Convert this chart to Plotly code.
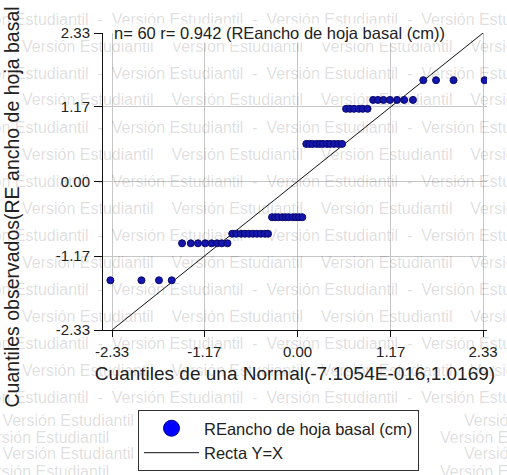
import plotly.graph_objects as go

# --- Datos -----------------------------------------------------------------
serie_nombre = "REancho de hoja basal (cm)"
r_correlacion = 0.942

# Cuantiles teóricos de la Normal(-7.1054E-016, 1.0169), en orden de rango
cuantil_normal = [
    -2.35, -1.96, -1.74, -1.58, -1.45, -1.34, -1.25, -1.16, -1.08, -1.01,
    -0.95, -0.88, -0.82, -0.77, -0.71, -0.66, -0.61, -0.56, -0.51, -0.46,
    -0.41, -0.37, -0.32, -0.28, -0.24, -0.19, -0.15, -0.11, -0.06, -0.02,
    0.02, 0.06, 0.11, 0.15, 0.19, 0.24, 0.28, 0.32, 0.37, 0.41,
    0.46, 0.51, 0.56, 0.61, 0.66, 0.71, 0.77, 0.82, 0.88, 0.95,
    1.01, 1.08, 1.16, 1.25, 1.34, 1.45, 1.58, 1.74, 1.96, 2.35,
]

# Cuantiles observados (residuos estandarizados ordenados)
cuantil_observado = [
    -1.55, -1.55, -1.55, -1.55,
    -0.97, -0.97, -0.97, -0.97, -0.97, -0.97, -0.97, -0.97,
    -0.82, -0.82, -0.82, -0.82, -0.82, -0.82, -0.82, -0.82, -0.82, -0.82,
    -0.56, -0.56, -0.56, -0.56, -0.56, -0.56, -0.56, -0.56, -0.56, -0.56,
    0.59, 0.59, 0.59, 0.59, 0.59, 0.59, 0.59, 0.59, 0.59, 0.59, 0.59,
    1.14, 1.14, 1.14, 1.14, 1.14, 1.14,
    1.28, 1.28, 1.28, 1.28, 1.28, 1.28, 1.28,
    1.59, 1.59, 1.59, 1.59,
]

# Extremos de la recta de referencia Y = X
recta = [-2.33, 2.33]

# Marcas de los ejes
ticks_valores = [-2.33, -1.17, 0.0, 1.17, 2.33]
ticks_texto = ["-2.33", "-1.17", "0.00", "1.17", "2.33"]

titulo_x = "Cuantiles de una Normal(-7.1054E-016,1.0169)"
titulo_y = "Cuantiles observados(RE ancho de hoja basal (cm))"

# --- Geometría de la figura -------------------------------------------------
ANCHO, ALTO = 507, 475
M_IZQ, M_DER, M_SUP, M_INF = 103, 20, 33, 145
ANCHO_AREA = ANCHO - M_IZQ - M_DER
ALTO_AREA = ALTO - M_SUP - M_INF


def px_x(p):
    return (p - M_IZQ) / ANCHO_AREA


def px_y(p):
    return (ALTO - M_INF - p) / ALTO_AREA


FUENTE = "Liberation Sans, Arial, sans-serif"
TINTA = "#222222"

fig = go.Figure()

fig.add_trace(go.Scatter(
    x=recta, y=recta, mode="lines", name="Recta Y=X",
    line=dict(color="#111111", width=1), legendrank=2, hoverinfo="skip",
))

fig.add_trace(go.Scatter(
    x=cuantil_normal, y=cuantil_observado, mode="markers",
    name=serie_nombre, showlegend=False,
    marker=dict(size=7, color="#1515b0", line=dict(color="#08086a", width=1)),
))

# Entrada de leyenda con el símbolo grande
fig.add_trace(go.Scatter(
    x=[None], y=[None], mode="markers", name=serie_nombre, legendrank=1,
    marker=dict(size=16, color="#0000ff", line=dict(color="#00008b", width=1)),
))

# --- Marca de agua (semitransparente) ----------------------------------------
MARCA = "Versión Estudiantil"
SEP_A = "\u00a0\u00a0\u00a0\u00a0"
SEP_B = "\u00a0\u00a0-\u00a0\u00a0"
fuente_marca = dict(family=FUENTE, size=16, color="rgba(0,0,0,0.14)")
anotaciones = []

filas_superiores = [19, 46, 73, 100, 127, 154, 181, 208, 235, 262, 289, 316, 343, 370, 397]
for k, py in enumerate(filas_superiores):
    par = k % 2 == 0
    inicio = -45 if par else 20
    anotaciones.append(dict(
        text=(SEP_B if par else SEP_A).join([MARCA] * 5), x=px_x(inicio), y=px_y(py),
        xref="paper", yref="paper", xanchor="left", yanchor="middle",
        showarrow=False, font=fuente_marca,
    ))

filas_inferiores = [420, 437, 454, 471]
for k, py in enumerate(filas_inferiores):
    par = k % 2 == 0
    anotaciones.append(dict(
        text=(SEP_A if par else SEP_B).join([MARCA] * 2),
        x=px_x(136 - (0 if par else 25)), y=px_y(py),
        xref="paper", yref="paper", xanchor="right", yanchor="middle",
        showarrow=False, font=fuente_marca,
    ))
    anotaciones.append(dict(
        text=(SEP_A if par else SEP_B).join([MARCA] * 2),
        x=px_x(434 + (28 if par else 4)), y=px_y(py),
        xref="paper", yref="paper", xanchor="left", yanchor="middle",
        showarrow=False, font=fuente_marca,
    ))

# Rótulo con n y r dentro del área de graficación
anotaciones.append(dict(
    text=f"n= {len(cuantil_observado)} r= {r_correlacion:.3f} ({serie_nombre})",
    x=px_x(113), y=px_y(33), xref="paper", yref="paper",
    xanchor="left", yanchor="middle", showarrow=False,
    bgcolor="white", borderpad=0,
    font=dict(family=FUENTE, size=16.5, color=TINTA),
))

eje_comun = dict(
    tickvals=ticks_valores, ticktext=ticks_texto,
    showgrid=True, gridcolor="#c6c6c6", gridwidth=1, zeroline=False,
    showline=True, linecolor="#111111", linewidth=1,
    ticks="outside", tickcolor="#111111", tickwidth=1,
    tickfont=dict(family=FUENTE, size=15, color=TINTA),
    automargin=False,
)

fig.update_layout(
    width=ANCHO, height=ALTO,
    margin=dict(l=M_IZQ, r=M_DER, t=M_SUP, b=M_INF, autoexpand=False),
    paper_bgcolor="white", plot_bgcolor="white",
    font=dict(family=FUENTE, size=15, color=TINTA),
    xaxis=dict(
        eje_comun, range=[-2.443, 2.38], ticklen=6, ticklabelstandoff=2,
        title=dict(text=titulo_x, font=dict(family=FUENTE, size=19, color=TINTA), standoff=7),
    ),
    yaxis=dict(
        eje_comun, range=[-2.33, 2.33], ticklen=8, ticklabelstandoff=1,
        title=dict(text=titulo_y, font=dict(family=FUENTE, size=19.5, color=TINTA), standoff=30),
    ),
    legend=dict(
        x=px_x(138), y=px_y(410), xanchor="left", yanchor="top",
        bordercolor="#333333", borderwidth=1, bgcolor="white",
        font=dict(family=FUENTE, size=16.5, color=TINTA),
        itemwidth=55, traceorder="normal",
    ),
    showlegend=True,
    annotations=anotaciones,
)

fig.write_html("out.html")
